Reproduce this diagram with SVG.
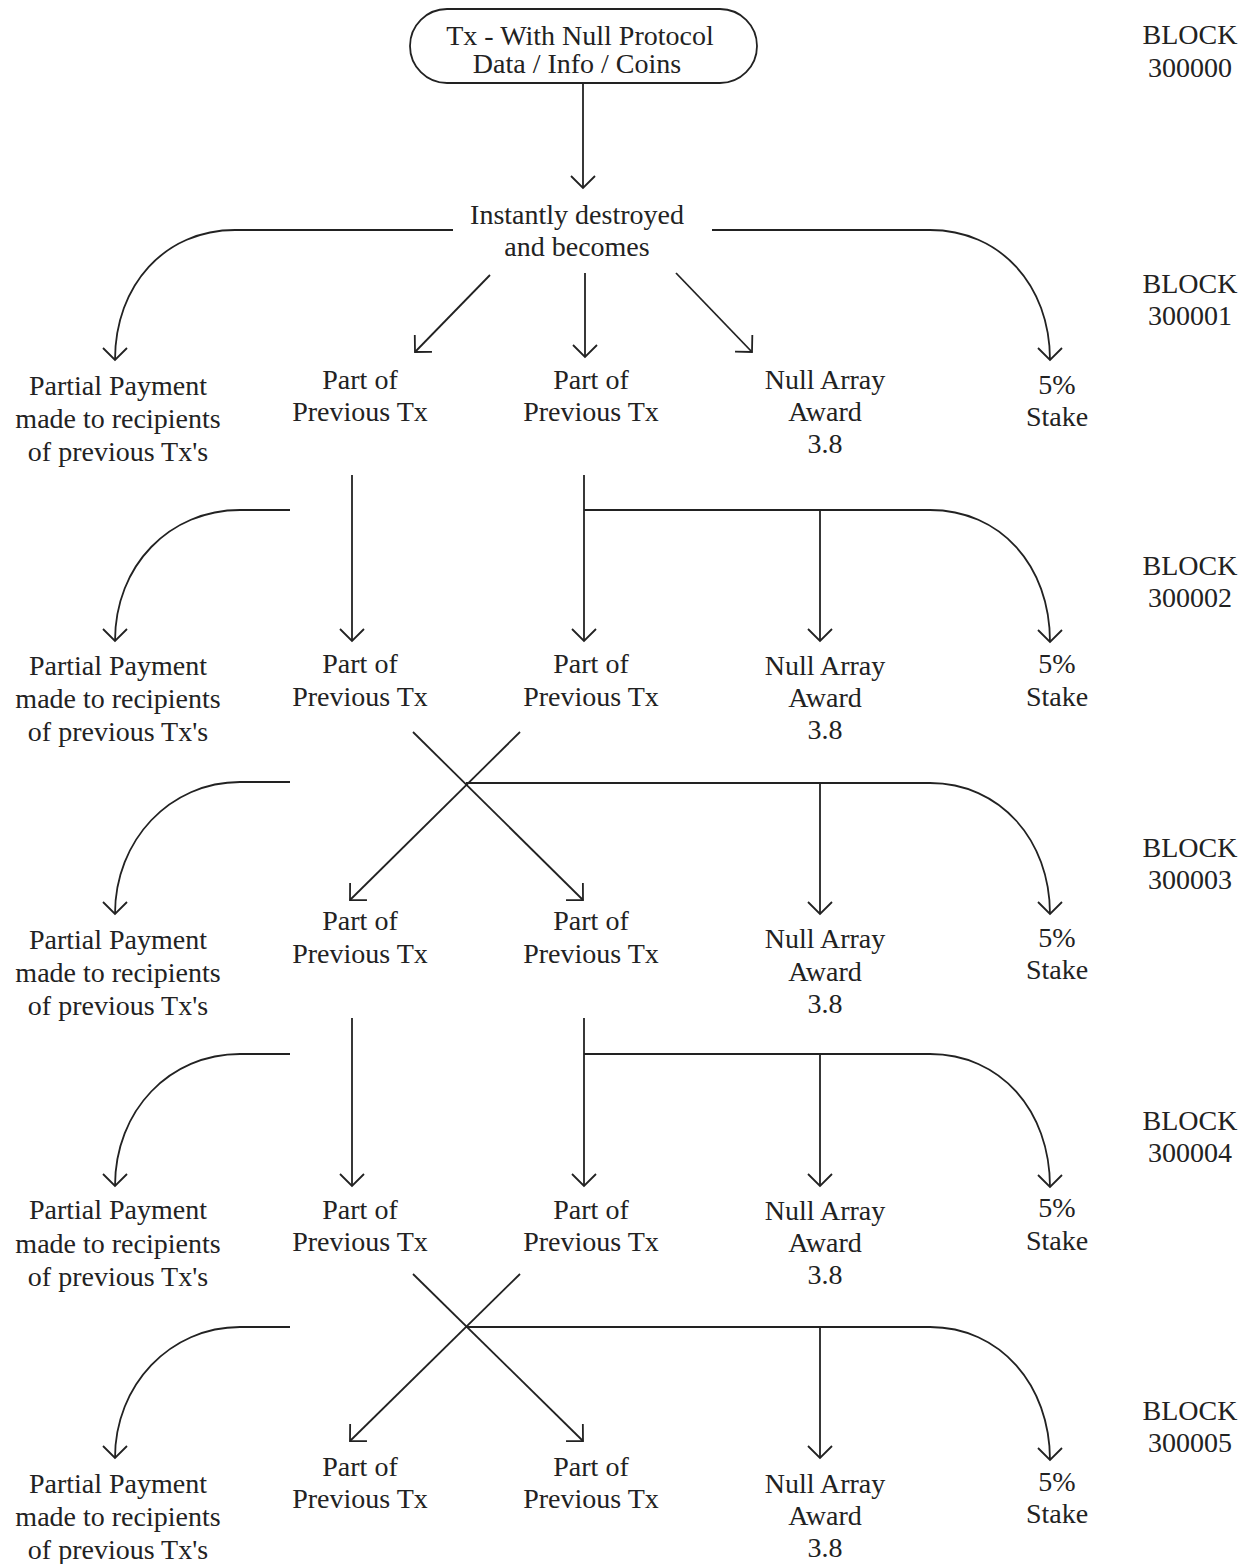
<svg xmlns="http://www.w3.org/2000/svg" width="1252" height="1564" viewBox="0 0 1252 1564">
<style>
text{font-family:"Liberation Serif","Times New Roman",serif;font-size:28px;fill:#222;text-anchor:middle}
.c{fill:none;stroke:#222;stroke-width:1.8}
</style>
<defs>
<marker id="ah" markerUnits="userSpaceOnUse" markerWidth="30" markerHeight="30" viewBox="-15 -15 30 30" refX="0" refY="0" orient="auto">
<path d="M-12,-12 L0,0 L-12,12" fill="none" stroke="#222" stroke-width="1.8"/>
</marker>
</defs>
<rect width="1252" height="1564" fill="#fff"/>
<g id="start"><rect x="410" y="9" width="347" height="74" rx="37" ry="37" class="c"/><text x="580" y="45">Tx - With Null Protocol</text><text x="577" y="73">Data / Info / Coins</text></g>
<g id="destroyed"><text x="577" y="224">Instantly destroyed</text><text x="577" y="256">and becomes</text></g>
<g id="blocks">
<g id="b0"><text x="1190" y="44">BLOCK</text><text x="1190" y="77">300000</text></g>
<g id="b1"><text x="1190" y="293">BLOCK</text><text x="1190" y="325">300001</text></g>
<g id="b2"><text x="1190" y="575">BLOCK</text><text x="1190" y="607">300002</text></g>
<g id="b3"><text x="1190" y="857">BLOCK</text><text x="1190" y="889">300003</text></g>
<g id="b4"><text x="1190" y="1130">BLOCK</text><text x="1190" y="1162">300004</text></g>
<g id="b5"><text x="1190" y="1420">BLOCK</text><text x="1190" y="1452">300005</text></g>
</g>
<g id="row1">
<g id="pp1"><text x="118" y="395">Partial Payment</text><text x="118" y="428">made to recipients</text><text x="118" y="461">of previous Tx's</text></g>
<g id="pa1"><text x="360" y="389">Part of</text><text x="360" y="421">Previous Tx</text></g>
<g id="pb1"><text x="591" y="389">Part of</text><text x="591" y="421">Previous Tx</text></g>
<g id="na1"><text x="825" y="389">Null Array</text><text x="825" y="421">Award</text><text x="825" y="453">3.8</text></g>
<g id="st1"><text x="1057" y="394">5%</text><text x="1057" y="426">Stake</text></g>
</g>
<g id="row2">
<g id="pp2"><text x="118" y="675">Partial Payment</text><text x="118" y="708">made to recipients</text><text x="118" y="741">of previous Tx's</text></g>
<g id="pa2"><text x="360" y="673">Part of</text><text x="360" y="706">Previous Tx</text></g>
<g id="pb2"><text x="591" y="673">Part of</text><text x="591" y="706">Previous Tx</text></g>
<g id="na2"><text x="825" y="675">Null Array</text><text x="825" y="707">Award</text><text x="825" y="739">3.8</text></g>
<g id="st2"><text x="1057" y="673">5%</text><text x="1057" y="706">Stake</text></g>
</g>
<g id="row3">
<g id="pp3"><text x="118" y="949">Partial Payment</text><text x="118" y="982">made to recipients</text><text x="118" y="1015">of previous Tx's</text></g>
<g id="pa3"><text x="360" y="930">Part of</text><text x="360" y="963">Previous Tx</text></g>
<g id="pb3"><text x="591" y="930">Part of</text><text x="591" y="963">Previous Tx</text></g>
<g id="na3"><text x="825" y="948">Null Array</text><text x="825" y="981">Award</text><text x="825" y="1013">3.8</text></g>
<g id="st3"><text x="1057" y="947">5%</text><text x="1057" y="979">Stake</text></g>
</g>
<g id="row4">
<g id="pp4"><text x="118" y="1219">Partial Payment</text><text x="118" y="1253">made to recipients</text><text x="118" y="1286">of previous Tx's</text></g>
<g id="pa4"><text x="360" y="1219">Part of</text><text x="360" y="1251">Previous Tx</text></g>
<g id="pb4"><text x="591" y="1219">Part of</text><text x="591" y="1251">Previous Tx</text></g>
<g id="na4"><text x="825" y="1220">Null Array</text><text x="825" y="1252">Award</text><text x="825" y="1284">3.8</text></g>
<g id="st4"><text x="1057" y="1217">5%</text><text x="1057" y="1250">Stake</text></g>
</g>
<g id="row5">
<g id="pp5"><text x="118" y="1493">Partial Payment</text><text x="118" y="1526">made to recipients</text><text x="118" y="1559">of previous Tx's</text></g>
<g id="pa5"><text x="360" y="1476">Part of</text><text x="360" y="1508">Previous Tx</text></g>
<g id="pb5"><text x="591" y="1476">Part of</text><text x="591" y="1508">Previous Tx</text></g>
<g id="na5"><text x="825" y="1493">Null Array</text><text x="825" y="1525">Award</text><text x="825" y="1557">3.8</text></g>
<g id="st5"><text x="1057" y="1491">5%</text><text x="1057" y="1523">Stake</text></g>
</g>
<g id="connectors" class="c">
<path d="M583,83 V188" marker-end="url(#ah)"/>
<path d="M453,230 H235 C165,230 115,285 115,360" marker-end="url(#ah)"/>
<path d="M712,230 H930 C1000,230 1050,285 1050,360" marker-end="url(#ah)"/>
<path d="M490,275 L415,352" marker-end="url(#ah)"/>
<path d="M585,273 V357" marker-end="url(#ah)"/>
<path d="M676,273 L752,352" marker-end="url(#ah)"/>

<path d="M290,510 H240 C170,510 115,565 115,641" marker-end="url(#ah)"/>
<path d="M352,475 V641" marker-end="url(#ah)"/>
<path d="M584,475 V641" marker-end="url(#ah)"/>
<path d="M584,510 H930 C1000,510 1050,565 1050,642" marker-end="url(#ah)"/>
<path d="M820,510 V641" marker-end="url(#ah)"/>

<path d="M290,782 H240 C170,782 115,840 115,914" marker-end="url(#ah)"/>
<path d="M413,732 L583,900" marker-end="url(#ah)"/>
<path d="M520,732 L350,900" marker-end="url(#ah)"/>
<path d="M466,783 H930 C1000,783 1050,840 1050,914" marker-end="url(#ah)"/>
<path d="M820,783 V914" marker-end="url(#ah)"/>

<path d="M290,1054 H240 C170,1054 115,1110 115,1186" marker-end="url(#ah)"/>
<path d="M352,1018 V1186" marker-end="url(#ah)"/>
<path d="M584,1018 V1186" marker-end="url(#ah)"/>
<path d="M584,1054 H930 C1000,1054 1050,1110 1050,1187" marker-end="url(#ah)"/>
<path d="M820,1054 V1186" marker-end="url(#ah)"/>

<path d="M290,1327 H240 C170,1327 115,1385 115,1458" marker-end="url(#ah)"/>
<path d="M413,1274 L583,1441" marker-end="url(#ah)"/>
<path d="M520,1274 L350,1441" marker-end="url(#ah)"/>
<path d="M466,1327 H930 C1000,1327 1050,1385 1050,1460" marker-end="url(#ah)"/>
<path d="M820,1327 V1458" marker-end="url(#ah)"/>
</g>
</svg>
